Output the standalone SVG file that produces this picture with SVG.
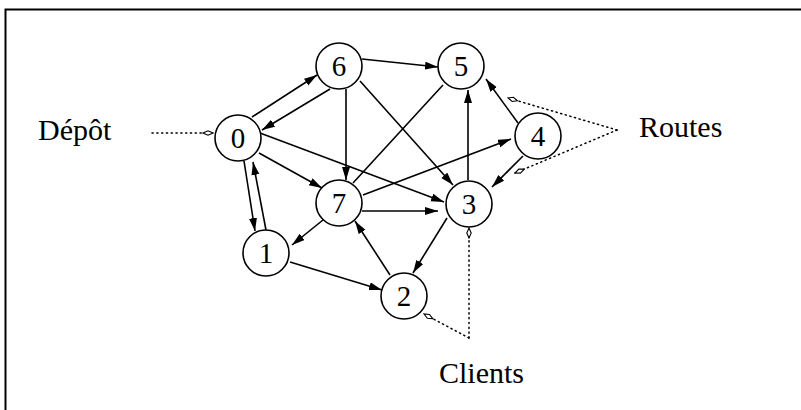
<svg xmlns="http://www.w3.org/2000/svg" width="801" height="410" viewBox="0 0 801 410">
<style>
.node circle{fill:#fff;stroke:#000;stroke-width:1.6}
.node text,.label{font-family:"Liberation Serif","Times New Roman",serif;fill:#000}
.node text{font-size:29px;text-anchor:middle}
.label{font-size:30px}
.edge{stroke:#000;stroke-width:1.6;fill:none;marker-end:url(#arr)}
.plain{stroke:#000;stroke-width:1.6;fill:none}
.dot{stroke:#000;stroke-width:1.5;fill:none;stroke-dasharray:1.2,3.6;stroke-linecap:round}
.dotm{marker-end:url(#loz)}
</style>
<defs>
<marker id="arr" markerUnits="userSpaceOnUse" markerWidth="14" markerHeight="9" refX="13" refY="4" orient="auto">
<path d="M0,0 L13,4 L0,8 Z" fill="#000"/>
</marker>
<marker id="loz" markerUnits="userSpaceOnUse" markerWidth="12" markerHeight="8" refX="11" refY="3" orient="auto">
<path d="M1,3 L6,0.8 L11,3 L6,5.2 Z" fill="#fff" stroke="#000" stroke-width="1.1"/>
</marker>
</defs>
<rect width="801" height="410" fill="#fff"/>
<path d="M5.5,410 V9.5 H801" fill="none" stroke="#000" stroke-width="2"/>
<g id="connectors">
<line class="edge" x1="252" y1="117" x2="317" y2="75"/>
<line class="edge" x1="330" y1="89" x2="262" y2="130"/>
<line class="edge" x1="362" y1="59" x2="438" y2="67"/>
<line class="edge" x1="346" y1="89" x2="346" y2="180"/>
<line class="edge" x1="360" y1="81" x2="453" y2="185"/>
<line class="edge" x1="259" y1="153" x2="322" y2="188"/>
<line class="edge" x1="260" y1="133" x2="444" y2="202"/>
<line class="plain" x1="443" y1="85" x2="353" y2="183"/>
<line class="edge" x1="468" y1="180" x2="468" y2="90"/>
<line class="edge" x1="518" y1="123" x2="486" y2="79"/>
<line class="edge" x1="363" y1="195" x2="511" y2="139"/>
<line class="edge" x1="523" y1="156" x2="492" y2="187"/>
<line class="edge" x1="362" y1="211" x2="438" y2="211"/>
<line class="edge" x1="323" y1="220" x2="292" y2="245"/>
<line class="edge" x1="290" y1="262" x2="382" y2="290"/>
<line class="edge" x1="390" y1="275" x2="355" y2="221"/>
<line class="edge" x1="447" y1="218" x2="413" y2="273"/>
<line class="edge" x1="244" y1="161" x2="255" y2="231"/>
<line class="edge" x1="266" y1="230" x2="253" y2="162"/>
<line class="dot dotm" x1="152" y1="133" x2="213" y2="133"/>
<line class="dot dotm" x1="617" y1="130" x2="508" y2="98"/>
<line class="dot dotm" x1="617" y1="130" x2="515" y2="173"/>
<line class="dot dotm" x1="469" y1="338" x2="469" y2="228"/>
<line class="dot dotm" x1="469" y1="338" x2="424" y2="314"/>
</g>
<g id="node0" class="node"><circle cx="238" cy="138" r="23"/><text x="238" y="148">0</text></g>
<g id="node1" class="node"><circle cx="266" cy="253" r="23"/><text x="266" y="263">1</text></g>
<g id="node2" class="node"><circle cx="404" cy="296" r="23"/><text x="404" y="306">2</text></g>
<g id="node3" class="node"><circle cx="469" cy="204" r="23"/><text x="469" y="214">3</text></g>
<g id="node4" class="node"><circle cx="538" cy="136" r="23"/><text x="538" y="146">4</text></g>
<g id="node5" class="node"><circle cx="461" cy="66" r="23"/><text x="461" y="76">5</text></g>
<g id="node6" class="node"><circle cx="339" cy="66" r="23"/><text x="339" y="76">6</text></g>
<g id="node7" class="node"><circle cx="339" cy="203" r="23"/><text x="339" y="213">7</text></g>
<text class="label" x="38" y="140">Dépôt</text>
<text class="label" x="639" y="137">Routes</text>
<text class="label" x="439" y="383">Clients</text>
</svg>
